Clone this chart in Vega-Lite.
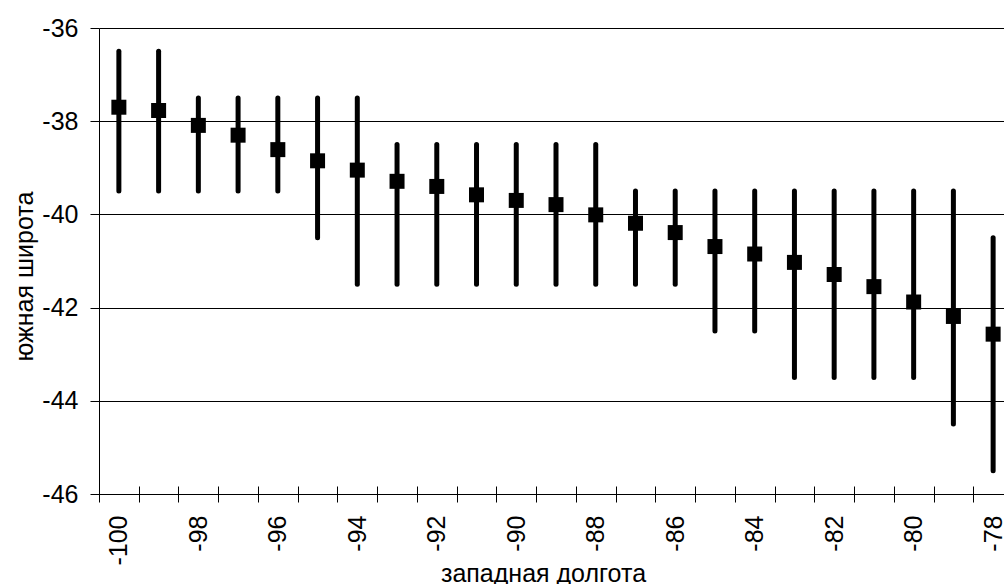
{
  "$schema": "https://vega.github.io/schema/vega-lite/v6.json",
  "autosize": "none",
  "padding": {"left": 99, "top": 28, "right": 0, "bottom": 90},
  "width": 905,
  "height": 466,
  "background": "white",
  "config": {
    "view": {"stroke": null},
    "font": "Liberation Sans",
    "axis": {
      "labelFont": "Liberation Sans",
      "titleFont": "Liberation Sans",
      "labelFontSize": 25,
      "titleFontSize": 25,
      "titleFontWeight": "normal",
      "labelColor": "black",
      "titleColor": "black",
      "domainColor": "black",
      "tickColor": "black",
      "gridColor": "black",
      "domainWidth": 1,
      "tickWidth": 1,
      "gridWidth": 1
    }
  },
  "data": {
    "values": [
      {"lon": -100, "lat": -37.7, "lo": -39.5, "hi": -36.5},
      {"lon": -99, "lat": -37.77, "lo": -39.5, "hi": -36.5},
      {"lon": -98, "lat": -38.09, "lo": -39.5, "hi": -37.5},
      {"lon": -97, "lat": -38.3, "lo": -39.5, "hi": -37.5},
      {"lon": -96, "lat": -38.61, "lo": -39.5, "hi": -37.5},
      {"lon": -95, "lat": -38.85, "lo": -40.5, "hi": -37.5},
      {"lon": -94, "lat": -39.05, "lo": -41.5, "hi": -37.5},
      {"lon": -93, "lat": -39.29, "lo": -41.5, "hi": -38.5},
      {"lon": -92, "lat": -39.4, "lo": -41.5, "hi": -38.5},
      {"lon": -91, "lat": -39.58, "lo": -41.5, "hi": -38.5},
      {"lon": -90, "lat": -39.7, "lo": -41.5, "hi": -38.5},
      {"lon": -89, "lat": -39.79, "lo": -41.5, "hi": -38.5},
      {"lon": -88, "lat": -40.01, "lo": -41.5, "hi": -38.5},
      {"lon": -87, "lat": -40.19, "lo": -41.5, "hi": -39.5},
      {"lon": -86, "lat": -40.39, "lo": -41.5, "hi": -39.5},
      {"lon": -85, "lat": -40.69, "lo": -42.5, "hi": -39.5},
      {"lon": -84, "lat": -40.85, "lo": -42.5, "hi": -39.5},
      {"lon": -83, "lat": -41.03, "lo": -43.5, "hi": -39.5},
      {"lon": -82, "lat": -41.29, "lo": -43.5, "hi": -39.5},
      {"lon": -81, "lat": -41.55, "lo": -43.5, "hi": -39.5},
      {"lon": -80, "lat": -41.88, "lo": -43.5, "hi": -39.5},
      {"lon": -79, "lat": -42.19, "lo": -44.5, "hi": -39.5},
      {"lon": -78, "lat": -42.57, "lo": -45.5, "hi": -40.5}
    ]
  },
  "layer": [
    {
      "mark": {"type": "rule", "color": "black", "strokeWidth": 5, "strokeCap": "round"},
      "encoding": {
        "x": {
          "field": "lon",
          "type": "ordinal",
          "sort": "ascending",
          "scale": {"type": "band", "paddingInner": 0, "paddingOuter": 0, "range": [0, 914]},
          "axis": {
            "orient": "bottom",
            "title": "западная долгота",
            "titleX": 444,
            "titleY": 87,
            "titleAlign": "center",
            "titleBaseline": "alphabetic",
            "titleAnchor": null,
            "labelAngle": 270,
            "labelAlign": "right",
            "labelBaseline": "middle",
            "labelPadding": 13,
            "tickSize": 8,
            "tickBand": "extent",
            "labelExpr": "datum.value % 2 == 0 ? '' + datum.value : ''",
            "grid": false,
            "domain": true
          }
        },
        "y": {
          "field": "lo",
          "type": "quantitative",
          "scale": {"domain": [-46, -36], "nice": false, "zero": false},
          "axis": {
            "values": [-46, -44, -42, -40, -38, -36],
            "labelExpr": "'' + datum.value",
            "title": "южная широта",
            "titleAngle": 270,
            "titleX": -67,
            "titleY": 248,
            "titleAlign": "center",
            "titleBaseline": "alphabetic",
            "titleAnchor": null,
            "tickSize": 9,
            "labelPadding": 12,
            "grid": true,
            "domain": true
          }
        },
        "y2": {"field": "hi"}
      }
    },
    {
      "mark": {"type": "point", "shape": "square", "size": 225, "filled": true, "color": "black", "opacity": 1},
      "encoding": {
        "x": {
          "field": "lon",
          "type": "ordinal",
          "sort": "ascending",
          "axis": {
            "orient": "bottom",
            "offset": -8,
            "tickSize": 8,
            "tickBand": "extent",
            "labels": false,
            "domain": false,
            "grid": false,
            "title": null
          }
        },
        "y": {"field": "lat", "type": "quantitative"}
      }
    }
  ],
  "resolve": {"axis": {"x": "independent"}}
}
